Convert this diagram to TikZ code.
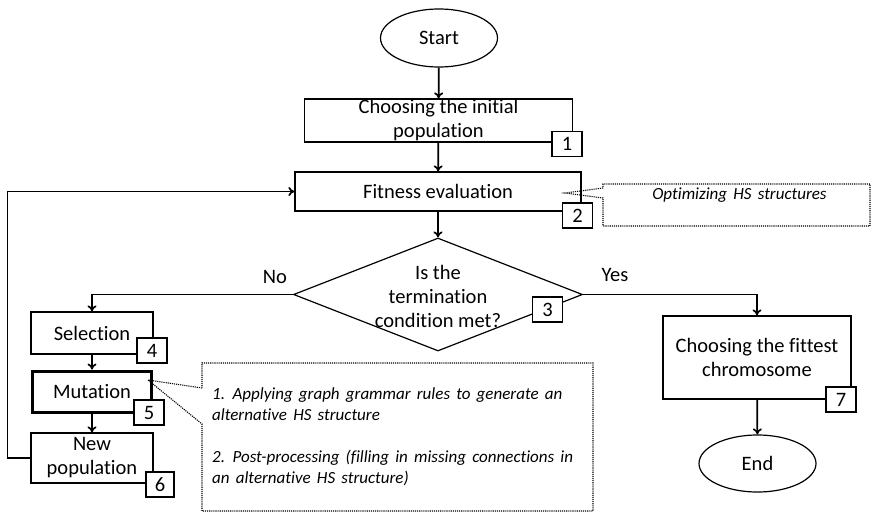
\documentclass[tikz,border=0pt]{standalone}
\usepackage{fontspec}
\setmainfont{Carlito}[Ligatures=NoCommon]
\usetikzlibrary{arrows.meta}
\usetikzlibrary{shapes.geometric}
\newcommand\notefont{\fontsize{17}{21}\selectfont\itshape\spaceskip=6.2pt plus 1pt\relax}

\begin{document}
\begin{tikzpicture}[x=1pt,y=-1pt,
font=\fontsize{20.5}{24}\selectfont,
process/.style={draw,line width=1.2pt,inner sep=0pt,align=center},
terminal/.style={draw,ellipse,line width=1.2pt,inner sep=0pt},
decision/.style={draw,diamond,line width=1.2pt,inner sep=0pt},
tag/.style={draw,fill=white,line width=1.2pt,inner sep=0pt,
minimum width=30pt,minimum height=25pt},
note/.style={font=\notefont,align=left,inner sep=0pt},
flow/.style={line width=1.7pt,-{To[length=6pt,width=9pt]}},
callout/.style={densely dotted,line width=1.1pt}]
\useasboundingbox (0,0) rectangle (875,514);

\node (start) [terminal,minimum width=117pt,minimum height=58pt] at (439,38) {Start};
\node (init) [process,minimum width=268pt,minimum height=43pt] at (438.5,120.5)
{Choosing the initial\\population};
\node (fit) [process,minimum width=286pt,minimum height=39pt] at (438,191.5)
{Fitness evaluation};
\node (cond) [decision,minimum width=289pt,minimum height=113pt] at (438,294.5) {};
\node (condtext) [align=center,inner sep=0pt] at (438,296.5)
{Is the\\termination\\condition met?};
\node (no) at (275,277) {No};
\node (yes) at (615,275) {Yes};
\node (sel) [process,minimum width=122pt,minimum height=42pt] at (92,333) {Selection};
\node (mut) [process,line width=3pt,minimum width=119pt,minimum height=41pt] at (92,391.5)
{Mutation};
\node (newpop) [process,minimum width=122pt,minimum height=50pt] at (92,458)
{New\\population};
\node (best) [process,minimum width=188pt,minimum height=83pt] at (757,357.5)
{Choosing the fittest\\chromosome};
\node (end) [terminal,minimum width=117pt,minimum height=57pt] at (757.5,463.5) {End};

\draw[flow] (start) -- (init);
\draw[flow] (init) -- (fit);
\draw[flow] (fit) -- (cond);
\draw[flow] (cond.west) -| (sel.north);
\draw[flow] (cond.east) -| (best.north);
\draw[flow] (sel) -- (mut);
\draw[flow] (mut) -- (newpop);
\draw[flow] (newpop.west) -- ++(-23,0) |- (fit.west);
\draw[flow] (best) -- (end);

\node (t1) [tag] at (567,144) {1};
\node (t2) [tag] at (577.5,215.5) {2};
\node (t3) [tag] at (547.5,309.5) {3};
\node (t4) [tag] at (152,350.5) {4};
\node (t5) [tag] at (149,412.5) {5};
\node (t6) [tag,minimum width=28pt] at (160,484.5) {6};
\node (t7) [tag] at (841,399.5) {7};

\node (opt) [note] at (739.5,195) {Optimizing HS structures};
\coordinate (optTip) at (565,193);
\draw[callout] (603,188) -- (optTip) -- (603,198) -- (603,226) -- (870,226)
-- (870,184) -- (603,184) -- cycle;

\node (steps) [note,anchor=north west] at (212,387)
{1. Applying graph grammar rules to generate an\\
alternative HS structure\\[21pt]
2. Post-processing (filling in missing connections in\\
an alternative HS structure)};
\coordinate (mutTip) at (148,380);
\draw[callout] (202,388) -- (mutTip) -- (202,424) -- (202,511) -- (593,511)
-- (593,363) -- (202,363) -- cycle;
\end{tikzpicture}
\end{document}
